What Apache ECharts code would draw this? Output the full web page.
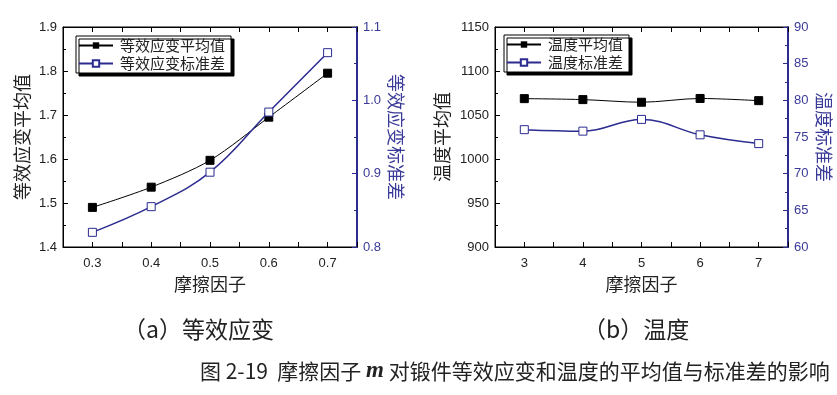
<!DOCTYPE html>
<html><head><meta charset="utf-8">
<script src="https://cdn.jsdelivr.net/npm/echarts@6/dist/echarts.min.js"></script>
<style>html,body{margin:0;padding:0;background:#fff}#c{width:837px;height:395px}</style>
</head><body><div id="c"></div>
<script>
// ---- data ----
const frictionA = [0.3, 0.4, 0.5, 0.6, 0.7];
const strainMean = [1.49, 1.536, 1.597, 1.695, 1.795];
const strainStd = [0.82, 0.855, 0.902, 0.984, 1.065];
const xTicksA = [0.3, 0.4, 0.5, 0.6, 0.7];

const frictionB = [3, 4, 5, 6, 7];
const tempMean = [1068.6, 1067.5, 1064.5, 1068.8, 1066.3];
const tempStd = [76.0, 75.8, 77.4, 75.3, 74.1];
const xTicksB = [3, 4, 5, 6, 7];

const legA = ['等效应变平均值', '等效应变标准差'];
const legB = ['温度平均值', '温度标准差'];

const BLUE = '#2b2b90';
const CJK = '"Noto Sans CJK SC", sans-serif';
const NUM = '"Liberation Sans", Arial, sans-serif';

function pairs(xs, ys){ return xs.map((x,i)=>[x, ys[i]]); }
function hasTick(ticks, v){ return ticks.some(t => Math.abs(t - v) < 1e-6); }

function xAxisCfg(gi, min, max, step, ticks, digits, top){
  return {
    type:'value', gridIndex:gi, min:min, max:max, interval:step, position: top?'top':'bottom',
    name: top ? '' : '摩擦因子', nameLocation:'middle', nameGap:27,
    nameTextStyle:{fontFamily:CJK, fontSize:18, color:'#222'},
    axisLine:{show:true, onZero:false, lineStyle:{color:'#000', width:1}},
    axisTick:{show:true, inside:true, length:5, lineStyle:{color:'#000'}},
    axisLabel:{show:!top, color:'#222', fontFamily:NUM, fontSize:13, margin:10,
      formatter: v => hasTick(ticks, v) ? v.toFixed(digits) : ''},
    splitLine:{show:false}
  };
}
function yAxisCfg(gi, pos, min, max, step, name, digits, color, gap, rot){
  return {
    type:'value', gridIndex:gi, position:pos, min:min, max:max, interval:step,
    name:name, nameLocation:'middle', nameGap:gap, nameRotate:rot,
    nameTextStyle:{fontFamily:CJK, fontSize:18, color: pos==='right' ? '#3a3a98' : '#222'},
    axisLine:{show:true, lineStyle:{color:color, width: pos==='right'?2:1}},
    axisTick:{show:true, inside:true, length:5, lineStyle:{color:color}},
    minorTick:{show:true, splitNumber:2, length:3, lineStyle:{color:color}},
    axisLabel:{color: pos==='right' ? '#3a3a98' : '#222', fontFamily:NUM, fontSize:13, margin:6,
      formatter: v => digits>0 ? v.toFixed(digits) : String(Math.round(v))},
    splitLine:{show:false}
  };
}
function meanSeries(name, xi, yi, data){
  return {name:name, type:'line', xAxisIndex:xi, yAxisIndex:yi, data:data, smooth:0.3,
    symbol:'rect', symbolSize:8, lineStyle:{color:'#000', width:1},
    itemStyle:{color:'#000', borderColor:'#000'}, z:3};
}
function stdSeries(name, xi, yi, data){
  return {name:name, type:'line', xAxisIndex:xi, yAxisIndex:yi, data:data, smooth:0.4,
    symbol:'rect', symbolSize:8, lineStyle:{color:BLUE, width:1.5},
    itemStyle:{color:'#fff', borderColor:BLUE, borderWidth:1}, z:4};
}
function legendCfg(names, left, top){
  return {data:names, orient:'vertical', left:left, top:top, itemWidth:34, itemHeight:8, itemGap:3,
    padding:[2,6,2,2], backgroundColor:'#fff', borderColor:'#000', borderWidth:1,
    shadowColor:'#000', shadowOffsetX:3, shadowOffsetY:3, shadowBlur:0,
    textStyle:{fontFamily:CJK, fontSize:15, color:'#222', padding:[0,0,0,2]}};
}

const chart = echarts.init(document.getElementById('c'), null, {renderer:'canvas'});
chart.setOption({
  backgroundColor:'#fff',
  animation:false,
  grid:[
    {left:63, right:480, top:27, bottom:148, show:true, borderColor:'#000', borderWidth:1},
    {left:495, right:49, top:27, bottom:148, show:true, borderColor:'#000', borderWidth:1}
  ],
  xAxis:[
    xAxisCfg(0, 0.25, 0.75, 0.05, xTicksA, 1, false),
    xAxisCfg(1, 2.5, 7.5, 0.5, xTicksB, 0, false),
    xAxisCfg(0, 0.25, 0.75, 0.05, xTicksA, 1, true),
    xAxisCfg(1, 2.5, 7.5, 0.5, xTicksB, 0, true)
  ],
  yAxis:[
    yAxisCfg(0, 'left', 1.4, 1.9, 0.1, '等效应变平均值', 1, '#000', 32, 90),
    yAxisCfg(0, 'right', 0.8, 1.1, 0.1, '等效应变标准差', 1, BLUE, 30, -90),
    yAxisCfg(1, 'left', 900, 1150, 50, '温度平均值', 0, '#000', 44, 90),
    yAxisCfg(1, 'right', 60, 90, 5, '温度标准差', 0, BLUE, 27, -90)
  ],
  legend:[legendCfg(legA, 76, 36), legendCfg(legB, 504, 35)],
  series:[
    meanSeries(legA[0], 0, 0, pairs(frictionA, strainMean)),
    stdSeries(legA[1], 0, 1, pairs(frictionA, strainStd)),
    meanSeries(legB[0], 1, 2, pairs(frictionB, tempMean)),
    stdSeries(legB[1], 1, 3, pairs(frictionB, tempStd))
  ],
  title:[
    {text:'（a）等效应变', left:118, top:313,
      textStyle:{fontFamily:CJK, fontSize:23, fontWeight:'normal', color:'#222'}},
    {text:'（b）温度', left:578, top:313,
      textStyle:{fontFamily:CJK, fontSize:23, fontWeight:'normal', color:'#222'}},
    {text:'图 2-19  摩擦因子 {m|m} 对锻件等效应变和温度的平均值与标准差的影响', left:195, top:355,
      textStyle:{fontFamily:CJK, fontSize:21, fontWeight:'normal', color:'#222',
        rich:{m:{fontFamily:'"Liberation Serif", serif', fontStyle:'italic', fontWeight:'bold', fontSize:23, color:'#222'}}}}
  ]
});
</script></body></html>
